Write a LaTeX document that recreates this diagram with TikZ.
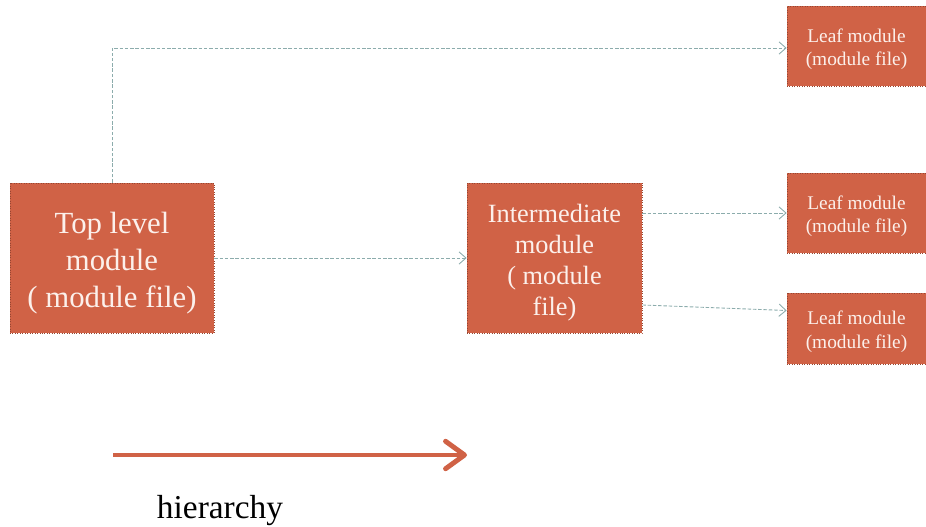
\documentclass[tikz,border=0pt]{standalone}
\usepackage{fontspec}
\setmainfont{Liberation Serif}
\usetikzlibrary{arrows.meta}
\definecolor{brick}{RGB}{208,98,70}
\definecolor{brickline}{RGB}{150,70,50}
\definecolor{linkgrey}{RGB}{140,172,172}
\definecolor{cream}{RGB}{252,240,235}

\newcommand{\toppad}{\rule{0pt}{1.05em}}

\tikzset{
  modbox/.style={draw=brickline,densely dotted,fill=brick,text=cream,align=center,inner sep=2pt},
  link/.style={draw=linkgrey,dash pattern=on 2pt off 1pt,line width=0.5pt,-{Straight Barb[length=4pt,width=7pt]}}
}

\begin{document}
\begin{tikzpicture}[x=0.02cm,y=-0.02cm]

\useasboundingbox (0,0) rectangle (926,527);

\node[modbox,minimum width=4.08cm,minimum height=3cm,font=\fontsize{17.5}{21}\selectfont] (top) at (112,258) {\toppad Top level\\module\\( module file)};
\node[modbox,minimum width=3.5cm,minimum height=3cm,font=\fontsize{15}{17.6}\selectfont] (mid) at (554.5,258) {\toppad Intermediate\\module\\( module\\file)};

\node[modbox,minimum width=2.78cm,minimum height=1.6cm,font=\fontsize{11}{13.5}\selectfont] (leafA) at (856.5,46) {\toppad Leaf module\\(module file)};
\node[modbox,minimum width=2.78cm,minimum height=1.6cm,font=\fontsize{11}{13.5}\selectfont] (leafB) at (856.5,213) {\toppad Leaf module\\(module file)};
\node[modbox,minimum width=2.78cm,minimum height=1.42cm,font=\fontsize{11}{13.5}\selectfont] (leafC) at (856.5,328.5) {\toppad Leaf module\\(module file)};

% connectors
\draw[link] (top.north) |- ([yshift=-0.04cm]leafA.west);
\draw[link] (top.east) -- (mid.west);
\draw[link] (mid.east |- leafB.west) -- (leafB.west);
\draw[link] ([yshift=-0.94cm]mid.east) -- ([yshift=0.36cm]leafC.west);

% hierarchy arrow
\coordinate (hstart) at (113,455);
\coordinate (hend) at (467,455);
\draw[brick,line width=2.8pt,-{Straight Barb[length=0.38cm,width=0.55cm,round]}] (hstart) -- (hend);
\node[font=\fontsize{19}{22}\selectfont] (hier) at (220,511) {hierarchy};

\end{tikzpicture}
\end{document}
